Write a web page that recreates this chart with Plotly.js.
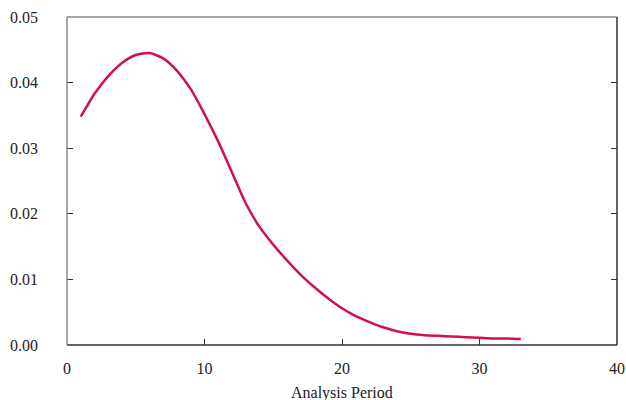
<!DOCTYPE html>
<html>
<head>
<meta charset="utf-8">
<script src="https://cdn.plot.ly/plotly-3.0.1.min.js"></script>
<style>html,body{margin:0;padding:0;background:#fff;}#chart{width:626px;height:400px;}</style>
</head>
<body>
<div id="chart"></div>
<script>
const periods = [1,2,3,4,5,6,7,8,9,10,11,12,13,14,15,16,17,18,19,20,21,22,23,24,25,26,27,28,29,30,31,32,33];
const density = [0.0348,0.0383,0.0410,0.0430,0.0442,0.0445,0.0437,0.0418,0.0390,0.0352,0.0310,0.0263,0.0216,0.0180,0.0153,0.0129,0.0107,0.0088,0.0071,0.0056,0.0044,0.0035,0.0027,0.0021,0.0017,0.0015,0.0014,0.0013,0.0012,0.0011,0.0010,0.0010,0.0009];
const xTicks = [0,10,20,30,40];
const yTicks = [0,0.01,0.02,0.03,0.04,0.05];
const xTitle = 'Analysis Period';

const trace = {
  x: periods, y: density, type: 'scatter', mode: 'lines',
  line: {color: '#d3114b', width: 2.5, shape: 'spline', smoothing: 0.6},
  hoverinfo: 'skip'
};
const layout = {
  width: 626, height: 400,
  margin: {l: 67, r: 9, t: 17, b: 55},
  paper_bgcolor: '#fff', plot_bgcolor: '#fff',
  font: {family: '"Liberation Serif", "Times New Roman", serif', size: 16, color: '#222'},
  showlegend: false,
  xaxis: {
    range: [0, 40], tickvals: xTicks, ticktext: xTicks.map(String),
    ticks: 'inside', ticklen: 6, tickcolor: '#333', tickwidth: 1,
    showgrid: false, zeroline: false, showline: false,
    ticklabelstandoff: 12
  },
  yaxis: {
    range: [0, 0.05], tickvals: yTicks, ticktext: yTicks.map(v => v.toFixed(2)),
    ticks: 'inside', ticklen: 6, tickcolor: '#333', tickwidth: 1, mirror: 'ticks',
    showgrid: false, zeroline: false, showline: false,
    ticklabelstandoff: 28
  },
  annotations: [
    {text: xTitle, xref: 'paper', yref: 'paper', x: 0.5, y: 0, xanchor: 'center', yanchor: 'middle',
     yshift: -48, showarrow: false, font: {size: 16}}
  ],
  shapes: [
    {type: 'line', xref: 'paper', yref: 'paper', x0: 0, x1: 1, y0: 1, y1: 1, line: {color: '#8a8a8a', width: 1.5}},
    {type: 'line', xref: 'paper', yref: 'paper', x0: 0, x1: 0, y0: 0, y1: 1, line: {color: '#8a8a8a', width: 1.5}},
    {type: 'line', xref: 'paper', yref: 'paper', x0: 1, x1: 1, y0: 0, y1: 1, line: {color: '#333', width: 1.5}},
    {type: 'line', xref: 'paper', yref: 'paper', x0: 0, x1: 1, y0: 0, y1: 0, line: {color: '#333', width: 1.5}}
  ]
};
Plotly.newPlot('chart', [trace], layout, {displayModeBar: false, staticPlot: true});
</script>
</body>
</html>
